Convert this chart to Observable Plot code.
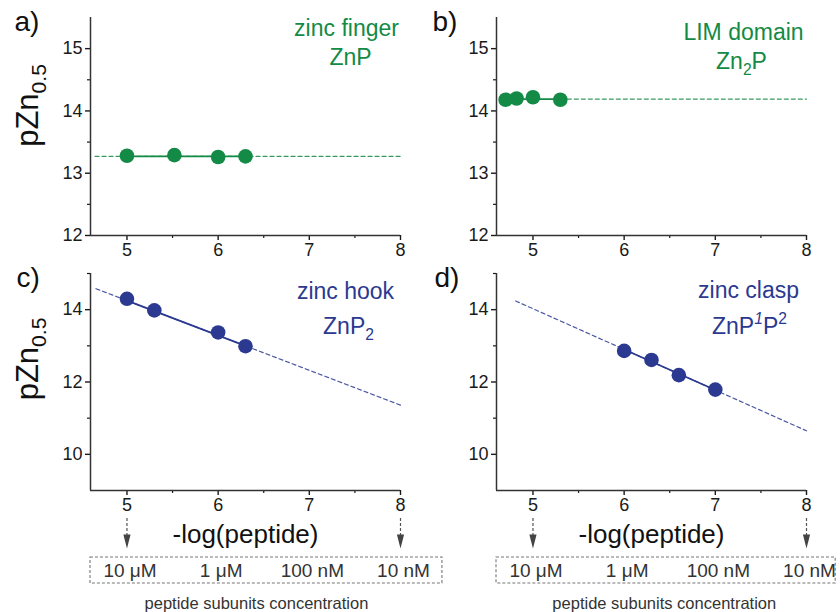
<!DOCTYPE html>
<html><head><meta charset="utf-8">
<script src="https://cdn.jsdelivr.net/npm/d3@7"></script>
<script src="https://cdn.jsdelivr.net/npm/@observablehq/plot@0.6"></script>
<style>
body{margin:0;background:#fff;}
#root{position:relative;width:840px;height:612px;font-family:"Liberation Sans",Arial,sans-serif;}
#root svg{position:absolute;overflow:visible;}
</style></head><body><div id="root"></div>
<script>
// ---- data ----
const xDomain = [4.6, 8];
const xTicks = [5, 6, 7, 8];
const xMinor = [5.5, 6.5, 7.5];
const yTopDomain = [12, 15.5];
const yTopTicks = [12, 13, 14, 15];
const yTopMinor = [12.5, 13.5, 14.5];
const yBotDomain = [9, 15];
const yBotTicks = [10, 12, 14];
const yBotMinor = [11, 13, 15];

const aX = [5, 5.52, 6, 6.3];
const aY = [13.28, 13.29, 13.26, 13.27];
const aDashX = [4.65, 8], aDashY = [13.27, 13.27];
const aSolidX = [5, 6.3], aSolidY = [13.27, 13.27];

const bX = [4.7, 4.82, 5.0, 5.3];
const bY = [14.18, 14.20, 14.22, 14.18];
const bDashX = [5.3, 8], bDashY = [14.19, 14.19];
const bSolidX = [4.7, 5.3], bSolidY = [14.19, 14.19];

const cX = [5, 5.3, 6, 6.3];
const cY = [14.30, 13.98, 13.37, 12.99];
const cDashX = [4.66, 8], cDashY = [14.58, 11.36];
const cSolidX = [5, 6.3], cSolidY = [14.25, 13.0];

const dX = [6, 6.3, 6.6, 7];
const dY = [12.86, 12.61, 12.19, 11.79];
const dDashX = [4.81, 8], dDashY = [14.24, 10.65];
const dSolidX = [6, 7], dSolidY = [12.90, 11.78];

const concTicks = [5, 6, 7, 8];
const concLabels = ["10 \u03bcM", "1 \u03bcM", "100 nM", "10 nM"];
const arrowTicks = [5, 8];

const GREEN = "#138a45", BLUE = "#2b3990";
const FONT = "'Liberation Sans', Arial, sans-serif";
const AX = "#333";

const zip = (xs, ys) => xs.map((x, i) => ({x, y: ys[i]}));
const root = document.getElementById("root");
const intFmt = d => String(d);

function panel(o) {
  const svg = Plot.plot({
    width: 420, height: o.height,
    marginLeft: o.ml, marginRight: o.mr, marginTop: o.mt, marginBottom: o.mb,
    x: {domain: xDomain},
    y: {domain: o.yDomain},
    style: {background: "transparent", overflow: "visible", fontFamily: FONT, color: "#1a1a1a"},
    marks: [
      Plot.axisX(xTicks, {tickSize: 5, tickPadding: 3, fontSize: 18, label: null, strokeWidth: 1.4, tickFormat: intFmt}),
      Plot.axisX(xMinor, {tickSize: 3, tickFormat: () => "", label: null, strokeWidth: 1.2}),
      Plot.axisY(o.yTicks, {tickSize: 5, tickPadding: 3, fontSize: 18, label: null, strokeWidth: 1.4, tickFormat: intFmt}),
      Plot.axisY(o.yMinor, {tickSize: 3, tickFormat: () => "", label: null, strokeWidth: 1.2}),
      Plot.ruleX([xDomain[0]], {stroke: AX, strokeWidth: 1.5}),
      Plot.ruleY([o.yDomain[0]], {stroke: AX, strokeWidth: 1.5}),
      Plot.line(zip(o.dashX, o.dashY), {x: "x", y: "y", stroke: o.color, strokeWidth: 1.2, strokeDasharray: "4,3", strokeOpacity: 0.85}),
      Plot.line(zip(o.solidX, o.solidY), {x: "x", y: "y", stroke: o.color, strokeWidth: 1.7}),
      Plot.dot(zip(o.px, o.py), {x: "x", y: "y", r: 7.3, fill: o.color}),
      Plot.text([o.letter], {frameAnchor: "top-left", dx: o.letterDx, dy: 13, textAnchor: "start", lineAnchor: "bottom", fontSize: 28, fill: "#111"}),
      Plot.text([o.name], {frameAnchor: "top-right", dx: o.nameDx, dy: o.nameDy, textAnchor: "middle", lineAnchor: "bottom", fontSize: 23, fill: o.color}),
      Plot.text([o.formula], {frameAnchor: "top-right", dx: o.formDx, dy: o.formDy, textAnchor: "middle", lineAnchor: "bottom", fontSize: 23, fill: o.color}),
      o.ylabel ? Plot.text([o.ylabel], {frameAnchor: "left", rotate: -90, dx: -53, dy: o.ylabDy, textAnchor: "middle", lineAnchor: "bottom", fontSize: 31, fill: "#111"}) : null,
      o.xlabel ? Plot.text([o.xlabel], {frameAnchor: "bottom", dy: 52, textAnchor: "middle", lineAnchor: "bottom", fontSize: 26, fill: "#111"}) : null
    ]
  });
  svg.style.left = o.left + "px";
  svg.style.top = o.top + "px";
  root.appendChild(svg);
  return svg;
}

function annot(o) {
  const svg = Plot.plot({
    width: 420, height: 100,
    marginLeft: o.ml, marginRight: o.mr, marginTop: 0, marginBottom: 0,
    x: {domain: xDomain, axis: null},
    y: {domain: [0, 100], range: [0, 100], axis: null},
    style: {background: "transparent", overflow: "visible", fontFamily: FONT},
    marks: [
      Plot.ruleX(arrowTicks, {y1: 6, y2: 24, stroke: "#555", strokeWidth: 1.2, strokeDasharray: "3,2"}),
      Plot.dot(arrowTicks, {x: d => d, y: 29, fill: "#444", stroke: "none",
        symbol: {draw(ctx) { ctx.moveTo(-3.6, -7); ctx.lineTo(3.6, -7); ctx.lineTo(0, 7); ctx.closePath(); }}}),
      Plot.rect([0], {x1: xDomain[0], x2: o.boxRight, y1: 45, y2: 71, fill: "none", stroke: "#777", strokeWidth: 1.1, strokeDasharray: "3,2"}),
      Plot.text(concTicks, {x: d => d, y: 58, text: (d, i) => concLabels[i], dx: 3, fontSize: 19, fill: "#333", lineAnchor: "middle"}),
      Plot.text(["peptide subunits concentration"], {x: () => o.capX, y: 91, fontSize: 16.5, fill: "#333", lineAnchor: "middle"})
    ]
  });
  svg.style.left = o.left + "px";
  svg.style.top = "512px";
  root.appendChild(svg);
  return svg;
}

const svgs = [];
svgs.push(panel({left: 0, top: 0, height: 262, ml: 90, mr: 20, mt: 17, mb: 27, yDomain: yTopDomain, yTicks: yTopTicks, yMinor: yTopMinor,
  px: aX, py: aY, dashX: aDashX, dashY: aDashY, solidX: aSolidX, solidY: aSolidY, color: GREEN,
  letter: "a)", letterDx: -76, name: "zinc finger", nameDx: -54, nameDy: 18, formula: "ZnP", formDx: -50, formDy: 47,
  ylabel: "pZn_{0.5}", ylabDy: -21}));
svgs.push(panel({left: 420, top: 0, height: 262, ml: 76, mr: 34, mt: 17, mb: 27, yDomain: yTopDomain, yTicks: yTopTicks, yMinor: yTopMinor,
  px: bX, py: bY, dashX: bDashX, dashY: bDashY, solidX: bSolidX, solidY: bSolidY, color: GREEN,
  letter: "b)", letterDx: -64, name: "LIM domain", nameDx: -63, nameDy: 22, formula: "Zn_{2}P", formDx: -65, formDy: 51}));
svgs.push(panel({left: 0, top: 250, height: 300, ml: 90, mr: 20, mt: 23, mb: 60, yDomain: yBotDomain, yTicks: yBotTicks, yMinor: yBotMinor,
  px: cX, py: cY, dashX: cDashX, dashY: cDashY, solidX: cSolidX, solidY: cSolidY, color: BLUE,
  letter: "c)", letterDx: -74, name: "zinc hook", nameDx: -55, nameDy: 25, formula: "ZnP_{2}", formDx: -52, formDy: 60,
  ylabel: "pZn_{0.5}", ylabDy: -23, xlabel: "-log(peptide)"}));
svgs.push(panel({left: 420, top: 250, height: 300, ml: 76, mr: 34, mt: 23, mb: 60, yDomain: yBotDomain, yTicks: yBotTicks, yMinor: yBotMinor,
  px: dX, py: dY, dashX: dDashX, dashY: dDashY, solidX: dSolidX, solidY: dSolidY, color: BLUE,
  letter: "d)", letterDx: -62, name: "zinc clasp", nameDx: -58, nameDy: 24, formula: "ZnP^{*1}P^{2}", formDx: -57, formDy: 60,
  xlabel: "-log(peptide)"}));
annot({left: 0, ml: 90, mr: 20, boxRight: 8.46, capX: 6.42});
annot({left: 420, ml: 76, mr: 34, boxRight: 8.32, capX: 6.44});

// rich text: _{sub}, ^{sup}, ^{*x} italic sup
svgs.forEach(svg => {
  d3.select(svg).selectAll("text").each(function() {
    const s = this.textContent;
    if (!/[_^]\{/.test(s)) return;
    const fs = parseFloat(getComputedStyle(this).fontSize) || 20;
    const el = d3.select(this);
    el.text(null);
    const re = /([_^])\{([^}]*)\}|([^_^]+)/g;
    let m, shift = 0;
    while ((m = re.exec(s))) {
      if (m[3]) {
        el.append("tspan").attr("dy", -shift).text(m[3]);
        shift = 0;
      } else {
        const sub = m[1] === "_";
        let t = m[2], italic = false;
        if (t.startsWith("*")) { italic = true; t = t.slice(1); }
        const d = sub ? 0.28 * fs : -0.42 * fs;
        const ts = el.append("tspan").attr("dy", d - shift).attr("font-size", 0.68 * fs).text(t);
        if (italic) ts.attr("font-style", "italic");
        shift = d;
      }
    }
  });
});
</script></body></html>
